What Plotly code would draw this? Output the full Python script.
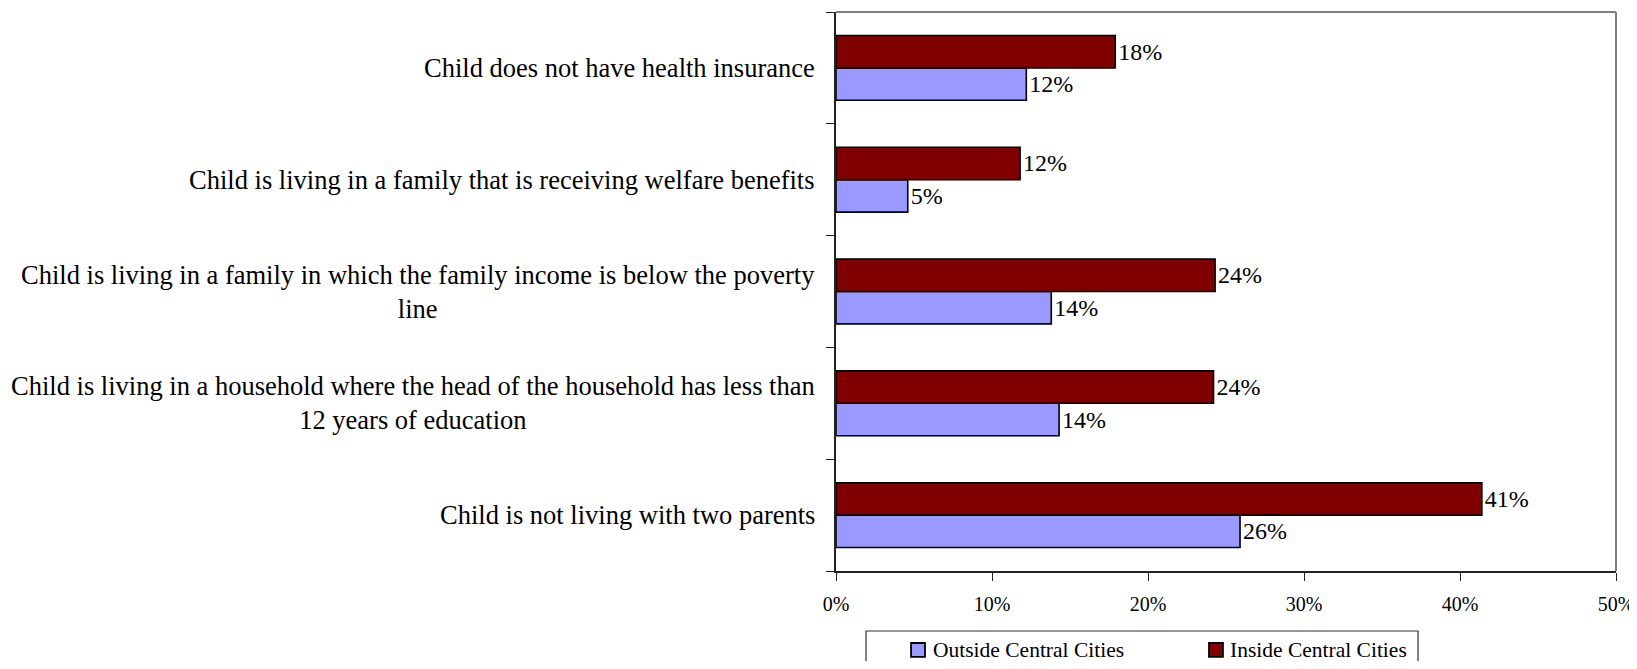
import plotly.graph_objects as go

# Categories listed bottom-to-top (Plotly draws the first category at the bottom)
categories = [
    "Child is not living with two parents",
    "Child is living in a household where the head of the household has less than<br>12 years of education",
    "Child is living in a family in which the family income is below the poverty<br>line",
    "Child is living in a family that is receiving welfare benefits",
    "Child does not have health insurance",
]
outside_vals = [25.9, 14.3, 13.8, 4.6, 12.2]
inside_vals = [41.4, 24.2, 24.3, 11.8, 17.9]
series_names = ["Outside Central Cities", "Inside Central Cities"]
series_colors = ["#9999FF", "#800000"]
x_ticks = [0, 10, 20, 30, 40, 50]

FONT = "Liberation Serif, Times New Roman, serif"
ids = list(range(len(categories)))

fig = go.Figure()
for name, vals, col in zip(series_names, [outside_vals, inside_vals], series_colors):
    fig.add_trace(go.Bar(
        y=ids, x=vals, orientation="h", name=name,
        marker=dict(color=col, line=dict(color="black", width=1.6)),
        text=[f"{round(v)}%" for v in vals], textposition="outside",
        textfont=dict(family=FONT, size=24, color="black"), cliponaxis=False,
    ))

for i, c in enumerate(categories):
    fig.add_annotation(
        x=0, xref="paper", y=i, yref="y", text=c, showarrow=False,
        xanchor="right", yanchor="middle", align="center", xshift=-19,
        font=dict(family=FONT, size=26.5, color="black"),
    )

# grey top and right plot borders
fig.add_shape(type="line", xref="paper", yref="paper", x0=0, x1=1, y0=1, y1=1,
              line=dict(color="#808080", width=2))
fig.add_shape(type="line", xref="paper", yref="paper", x0=1, x1=1, y0=0, y1=1,
              line=dict(color="#808080", width=2))

# legend (frame, swatches, labels)
fig.add_shape(type="rect", xref="paper", yref="paper", x0=0.0385, x1=0.7462,
              y0=-0.2, y1=-0.1073, line=dict(color="#333333", width=1.2))
legend_sw_x = [0.0962, 0.4782]
legend_tx_x = [0.1218, 0.5026]
for name, col, sx, tx in zip(series_names, series_colors, legend_sw_x, legend_tx_x):
    fig.add_shape(type="rect", xref="paper", yref="paper", x0=sx, x1=sx + 0.0179,
                  y0=-0.1538, y1=-0.1288, fillcolor=col,
                  line=dict(color="black", width=1.8))
    fig.add_annotation(x=tx, xref="paper", y=-0.1413, yref="paper", text=name,
                       showarrow=False, xanchor="left", yanchor="middle",
                       font=dict(family=FONT, size=21.5, color="black"))

fig.update_layout(
    width=1629, height=653, autosize=False,
    margin=dict(l=828, r=21, t=4, b=90),
    paper_bgcolor="white", plot_bgcolor="white",
    barmode="group", bargap=0.42, bargroupgap=0,
    font=dict(family=FONT, color="black"),
    showlegend=False,
    xaxis=dict(range=[0, 50], tickvals=x_ticks, ticktext=[f"{t}%" for t in x_ticks],
               showgrid=False, zeroline=False, showline=True, linecolor="#222222",
               linewidth=1.5, ticks="outside", ticklen=8, tickcolor="#222222",
               ticklabelstandoff=6, ticklabeloverflow="allow",
               tickfont=dict(family=FONT, size=20, color="black")),
    yaxis=dict(type="linear", range=[-0.5, len(categories) - 0.5],
               tickvals=[i - 0.5 for i in range(len(categories) + 1)],
               showticklabels=False, showgrid=False, zeroline=False,
               showline=True, linecolor="#222222", linewidth=1.5,
               ticks="outside", ticklen=8, tickcolor="#222222"),
)

fig.write_html("out.html")
